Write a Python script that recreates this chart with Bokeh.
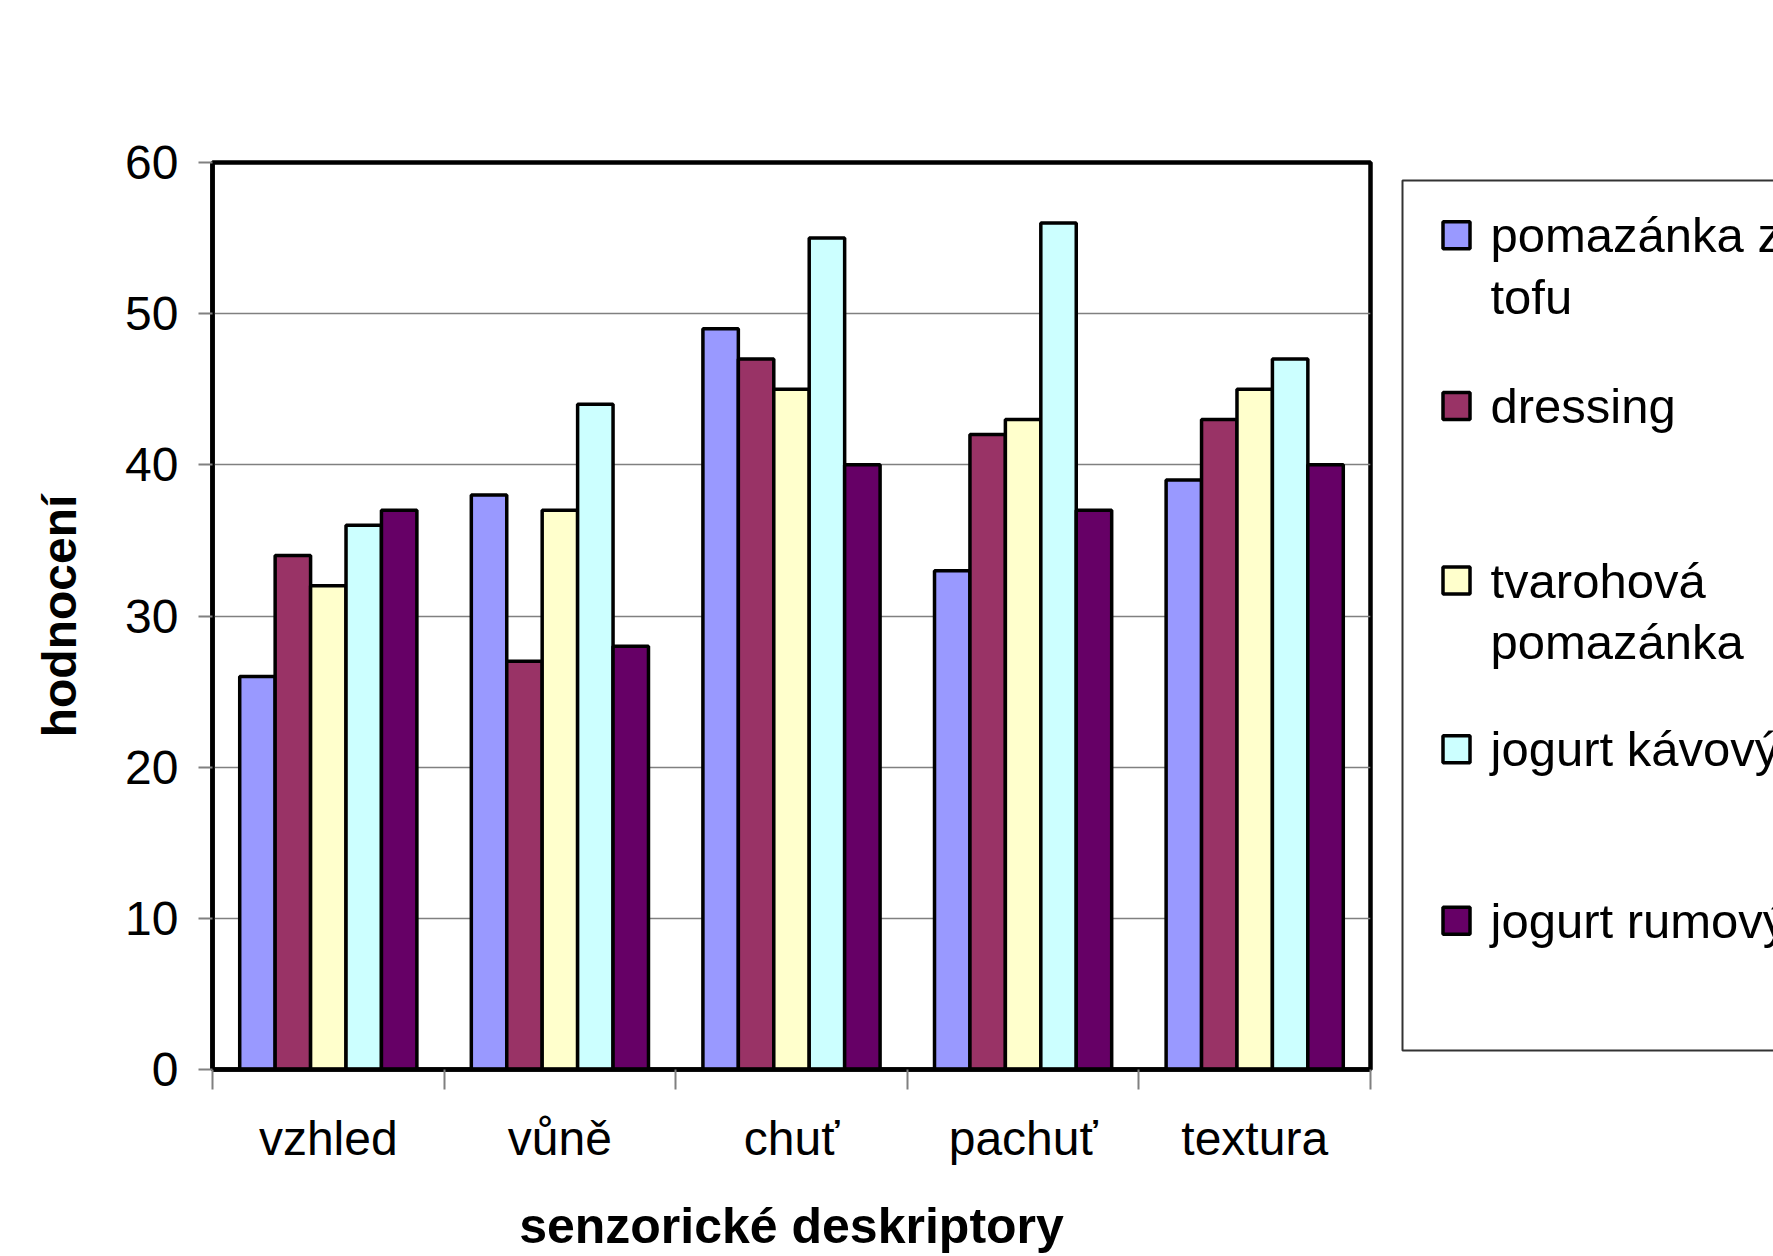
import numpy as np
from bokeh.plotting import figure
from bokeh.models import Range1d, FixedTicker
from bokeh.layouts import row
from bokeh.embed import file_html
from bokeh.resources import INLINE
from bokeh.core.properties import value

# ---------------- data ----------------
categories = ["vzhled", "vůně", "chuť", "pachuť", "textura"]
series_names = ["pomazánka z tofu", "dressing", "tvarohová pomazánka",
                "jogurt kávový", "jogurt rumový"]
legend_lines = [["pomazánka z", "tofu"], ["dressing"], ["tvarohová", "pomazánka"],
                ["jogurt kávový"], ["jogurt rumový"]]
pomazanka_tofu = [26, 38, 49, 33, 39]
dressing = [34, 27, 47, 42, 43]
tvarohova_pomazanka = [32, 37, 45, 43, 45]
jogurt_kavovy = [36, 44, 55, 56, 47]
jogurt_rumovy = [37, 28, 40, 37, 40]
y_ticks = [0, 10, 20, 30, 40, 50, 60]
x_label = "senzorické deskriptory"
y_label = "hodnocení"

series = [pomazanka_tofu, dressing, tvarohova_pomazanka, jogurt_kavovy, jogurt_rumovy]
colors = ["#9999FF", "#993366", "#FFFFCC", "#CCFFFF", "#660066"]

FONT = "Liberation Sans"
H = 1256
W_MAIN = 1395
F_LEFT, F_TOP, F_RIGHT, F_BOTTOM = 212, 162, 1370, 1071

# ---------------- main chart ----------------
p = figure(width=W_MAIN, height=H, output_backend="svg", toolbar_location=None,
           x_range=Range1d(0, len(categories)), y_range=Range1d(0, 60),
           min_border_left=F_LEFT, min_border_right=W_MAIN - F_RIGHT,
           min_border_top=F_TOP, min_border_bottom=H - F_BOTTOM)
p.background_fill_color = "white"
p.border_fill_color = "white"
p.outline_line_color = "black"
p.outline_line_width = 4.5

bar_w = 0.153
centers = np.arange(len(categories)) + 0.5
for k, (vals, c) in enumerate(zip(series, colors)):
    p.vbar(x=centers + (k - 2) * bar_w, top=vals, bottom=0, width=bar_w,
           fill_color=c, line_color="black", line_width=3.5)

# x axis: labels at centres, ticks at category boundaries
xa = p.xaxis[0]
xa.ticker = FixedTicker(ticks=list(centers), minor_ticks=list(range(len(categories) + 1)))
xa.major_label_overrides = {float(c): cat for c, cat in zip(centers, categories)}
xa.major_tick_out = 0
xa.major_tick_in = 0
xa.minor_tick_out = 20
xa.minor_tick_in = 0
xa.minor_tick_line_color = "#808080"
xa.minor_tick_line_width = 2
xa.axis_line_color = "black"
xa.axis_line_width = 4.5
xa.major_label_text_font = FONT
xa.major_label_text_font_size = "48px"
xa.major_label_text_color = "black"
xa.major_label_standoff = 22
xa.axis_label = x_label
xa.axis_label_text_font = FONT
xa.axis_label_text_font_style = "bold"
xa.axis_label_text_font_size = "50px"
xa.axis_label_text_color = "black"
xa.axis_label_standoff = 30

ya = p.yaxis[0]
ya.ticker = FixedTicker(ticks=y_ticks, minor_ticks=[])
ya.major_tick_out = 14
ya.major_tick_in = 0
ya.major_tick_line_color = "#808080"
ya.major_tick_line_width = 2
ya.axis_line_color = "black"
ya.axis_line_width = 4.5
ya.major_label_text_font = FONT
ya.major_label_text_font_size = "48px"
ya.major_label_text_color = "black"
ya.major_label_standoff = 20
ya.axis_label = y_label
ya.axis_label_text_font = FONT
ya.axis_label_text_font_style = "bold"
ya.axis_label_text_font_size = "48px"
ya.axis_label_text_color = "black"
ya.axis_label_standoff = 36

p.xgrid.grid_line_color = None
p.ygrid.grid_line_color = "#808080"
p.ygrid.grid_line_width = 1.5

# ---------------- legend panel (frame aligned with main frame; data = page px) ----------------
LW = 1773 - W_MAIN
lg = figure(width=LW, height=H, output_backend="svg", toolbar_location=None,
            x_range=Range1d(0, LW), y_range=Range1d(F_BOTTOM, F_TOP),
            x_axis_location=None, y_axis_location=None,
            min_border_left=0, min_border_right=0,
            min_border_top=F_TOP, min_border_bottom=H - F_BOTTOM)
lg.outline_line_color = None
lg.xgrid.grid_line_color = None
lg.ygrid.grid_line_color = None
lg.background_fill_color = "white"
lg.border_fill_color = "white"

lg.quad(left=7, right=LW + 200, top=180, bottom=1052, fill_color=None,
        line_color="#333333", line_width=2)

item_y = [235, 406, 581, 750, 922]
sw_x, txt_x, line_h = 61, 95, 62
lg.rect(x=[sw_x] * len(colors), y=item_y, width=27, height=27,
        fill_color=colors, line_color="black", line_width=3.5)
tx, ty, tt = [], [], []
for yy, lines in zip(item_y, legend_lines):
    for j, ln in enumerate(lines):
        tx.append(txt_x)
        ty.append(yy + j * line_h)
        tt.append(ln)
lg.text(x=tx, y=ty, text=tt, text_baseline="middle", text_align="left",
        text_font=value(FONT), text_font_size="49px", text_color="black")

layout = row(p, lg)
open("out.html", "w").write(file_html(layout, INLINE))
